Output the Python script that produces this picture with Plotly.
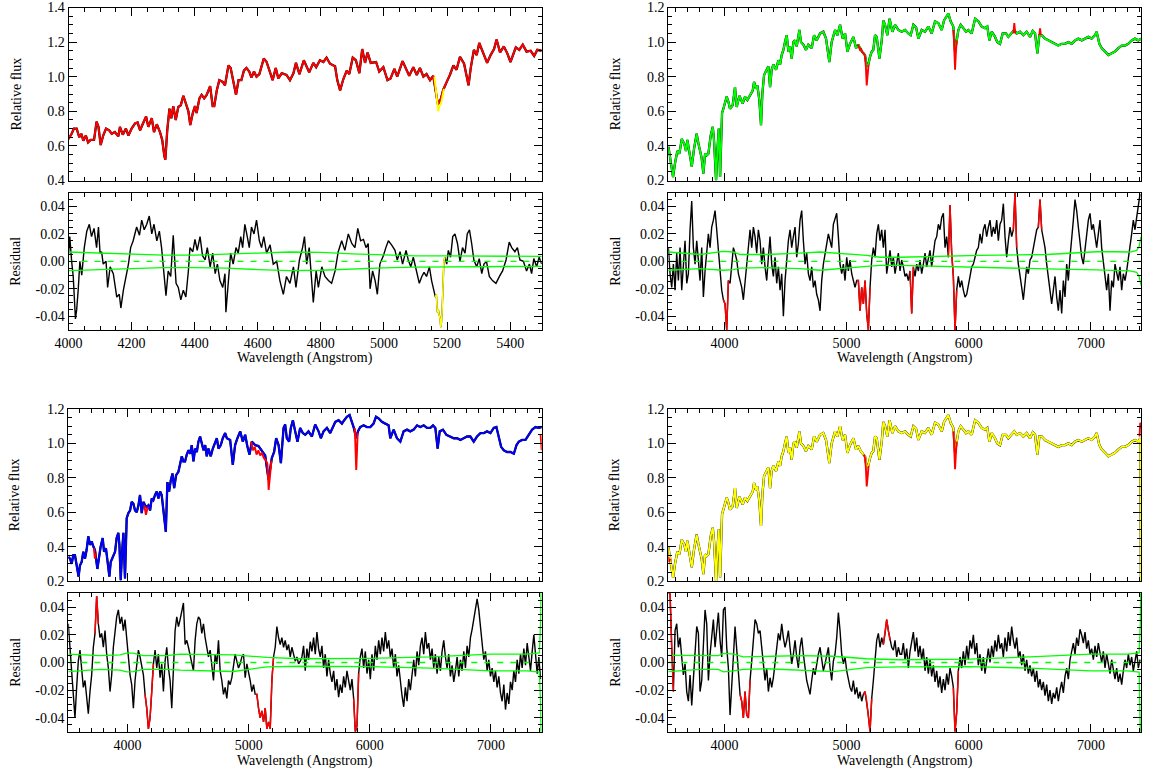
import numpy as np
import plotly.graph_objects as go

# ------------------------------------------------------------------ data
# Panel A (top-left): flux (model red, data black), masked data yellow
A_wave = [4000,4010,4017,4026,4034,4041,4047,4055,4062,4070,
          4081,4089,4095,4102,4110,4119,4129,4137,4147,4158,
          4163,4172,4182,4190,4200,4211,4219,4227,4235,4246,
          4253,4264,4271,4280,4290,4297,4304,4307,4313,4320,
          4326,4332,4340,4348,4356,4364,4372,4380,4386,4394,
          4401,4406,4415,4422,4430,4438,4449,4457,4462,4470,
          4478,4489,4496,4507,4514,4522,4531,4539,4548,4556,
          4564,4573,4580,4588,4596,4605,4619,4628,4639,4647,
          4657,4665,4676,4691,4702,4713,4721,4732,4746,4763,
          4776,4785,4797,4808,4818,4829,4845,4852,4861,4871,
          4882,4890,4901,4911,4922,4931,4940,4948,4958,4975,
          4985,4998,5011,5021,5033,5042,5059,5072,5080,5093,
          5104,5114,5125,5135,5146,5156,5164,5171,5180,5188,
          5199,5209,5220,5230,5241,5254,5268,5275,5285,5294,
          5302,5315,5327,5338,5349,5357,5368,5380,5391,5401,
          5410,5418,5429,5440,5452,5465,5476,5486,5500]
A_flux = [0.64,0.67,0.70,0.70,0.65,0.67,0.63,0.66,0.62,0.635,
          0.635,0.74,0.71,0.605,0.66,0.70,0.69,0.67,0.68,0.655,
          0.71,0.665,0.70,0.66,0.70,0.73,0.735,0.69,0.725,0.77,
          0.71,0.76,0.68,0.725,0.68,0.635,0.54,0.52,0.69,0.815,
          0.76,0.83,0.75,0.825,0.835,0.89,0.845,0.80,0.72,0.79,
          0.83,0.79,0.875,0.895,0.875,0.895,0.945,0.83,0.83,0.92,
          0.98,0.97,0.95,1.065,1.05,0.97,0.895,0.98,0.98,1.035,
          1.05,1.03,0.995,1.03,1.0,1.015,1.105,1.085,1.02,0.98,
          1.05,0.99,1.02,1.01,0.98,1.02,1.08,1.015,1.095,1.025,
          1.08,1.055,1.095,1.085,1.11,1.075,1.06,0.98,0.92,0.985,
          1.035,1.015,1.11,1.095,1.02,1.16,1.08,1.14,1.08,1.085,
          1.03,1.055,0.98,0.99,1.045,1.0,1.09,1.04,1.005,1.055,
          1.01,1.05,1.0,1.015,0.98,1.005,0.915,0.84,0.87,0.925,
          0.97,1.01,1.065,1.04,1.115,1.075,0.95,1.05,1.155,1.125,
          1.195,1.135,1.08,1.125,1.16,1.215,1.14,1.175,1.135,1.085,
          1.135,1.17,1.155,1.185,1.145,1.15,1.12,1.155,1.15]
A_mask_wave = [[5160,5164,5168,5172,5176,5181,5186,5190]]
A_mask_flux = [[1.0,0.92,0.85,0.80,0.83,0.845,0.89,0.93]]

A_res_wave = [4000,4004,4010,4015,4022,4026,4031,4036,4042,4050,
              4058,4066,4073,4081,4089,4095,4100,4105,4110,4119,
              4124,4132,4142,4153,4161,4166,4174,4182,4190,4197,
              4205,4216,4225,4232,4240,4248,4256,4264,4271,4280,
              4288,4295,4300,4309,4316,4324,4332,4341,4348,4356,
              4364,4372,4380,4385,4394,4401,4408,4417,4425,4433,
              4440,4449,4457,4465,4472,4480,4489,4496,4499,4507,
              4514,4522,4531,4538,4546,4552,4559,4565,4573,4580,
              4588,4596,4605,4612,4619,4628,4639,4649,4660,4670,
              4681,4691,4702,4713,4721,4732,4742,4748,4755,4763,
              4771,4776,4785,4792,4803,4813,4824,4834,4845,4855,
              4866,4876,4887,4898,4908,4917,4926,4935,4943,4950,
              4956,4964,4972,4979,4987,4998,5006,5014,5024,5035,
              5042,5051,5059,5070,5077,5085,5093,5104,5112,5120,
              5127,5135,5144,5151,5158,5163,5166,5169,5172,5175,
              5178,5180,5182,5184,5187,5190,5193,5199,5204,5211,
              5218,5225,5233,5241,5249,5257,5264,5271,5278,5285,
              5294,5302,5310,5317,5325,5334,5344,5355,5366,5376,
              5387,5397,5405,5415,5423,5431,5442,5452,5461,5468,
              5475,5484,5492,5500]
A_res = [0.005,0.018,0.0,-0.011,-0.042,-0.035,-0.02,0.0,-0.01,0.01,
         0.022,0.027,0.018,0.024,0.01,0.025,0.006,0.007,-0.002,0.0,
         -0.019,-0.004,-0.009,-0.026,-0.024,-0.034,-0.021,-0.011,-0.002,0.01,
         0.015,0.025,0.019,0.03,0.023,0.027,0.033,0.02,0.027,0.015,
         0.022,0.01,-0.002,-0.025,-0.007,-0.011,0.019,-0.016,-0.019,-0.028,
         -0.021,-0.026,-0.007,0.01,0.007,0.016,0.008,0.018,0.004,0.001,
         0.01,-0.004,0.006,-0.009,-0.002,-0.014,-0.019,-0.009,-0.037,-0.014,
         0.006,-0.002,0.01,0.006,0.018,0.01,0.027,0.02,0.01,0.025,
         0.02,0.03,0.015,0.01,0.018,0.006,0.012,-0.002,0.0,-0.014,
         -0.024,-0.011,-0.016,-0.004,-0.019,0.001,0.01,0.018,-0.002,0.01,
         -0.014,-0.03,-0.007,-0.019,-0.004,-0.011,-0.014,-0.016,-0.007,0.007,
         0.015,0.008,0.02,0.013,0.01,0.024,0.015,0.016,0.01,0.013,
         -0.02,-0.007,-0.014,-0.024,-0.002,0.004,0.01,0.015,0.012,0.008,
         0.001,0.007,-0.002,0.008,0.001,-0.004,0.003,-0.007,-0.016,-0.011,
         -0.008,-0.011,-0.004,-0.014,-0.022,-0.026,-0.024,-0.037,-0.035,-0.039,
         -0.042,-0.048,-0.045,-0.038,-0.014,0.0,0.003,-0.002,0.008,0.003,
         0.018,0.02,0.013,0.0,0.01,0.006,0.02,0.023,0.013,0.001,
         -0.004,0.002,-0.009,-0.002,0.0,-0.011,-0.014,-0.016,-0.011,-0.007,
         0.001,0.014,0.01,0.007,0.01,0.001,0.0,-0.007,-0.002,-0.009,
         0.002,-0.004,0.003,-0.002]
A_res_mask = [(5164, 5191)]
A_sig_wave = [4000,4100,4200,4300,4400,4500,4600,4700,4800,4900,5000,5100,5200,5300,5400,5500]
A_sig_up = [0.0068,0.006,0.005,0.0045,0.0045,0.005,0.006,0.0068,0.0065,0.0055,0.0045,0.004,0.004,0.0038,0.0037,0.0036]
A_sig_lo = [-0.0068,-0.006,-0.005,-0.0045,-0.0046,-0.005,-0.006,-0.0068,-0.0065,-0.0055,-0.0048,-0.0042,-0.004,-0.0038,-0.0037,-0.0036]

# Panel B (top-right): model green, masked red
B_wave = [3542,3555,3569,3580,3596,3615,3632,3651,3670,3686,
          3697,3713,3733,3752,3773,3787,3801,3814,3828,3842,
          3855,3869,3888,3905,3915,3932,3943,3954,3965,3981,
          3992,4005,4019,4033,4046,4068,4087,4101,4123,4150,
          4169,4188,4210,4232,4243,4259,4270,4286,4300,4311,
          4325,4341,4360,4374,4387,4401,4423,4442,4456,4469,
          4483,4496,4510,4524,4537,4551,4565,4578,4592,4614,
          4627,4647,4668,4687,4715,4734,4756,4783,4810,4832,
          4859,4878,4906,4925,4947,4968,4988,5007,5028,5056,
          5078,5097,5116,5138,5151,5165,5178,5192,5206,5219,
          5233,5247,5269,5288,5301,5315,5334,5352,5375,5397,
          5424,5451,5479,5506,5525,5547,5569,5588,5615,5642,
          5670,5697,5724,5751,5779,5798,5820,5833,5852,5874,
          5888,5901,5915,5934,5956,5978,5997,6024,6052,6079,
          6106,6133,6152,6169,6188,6215,6234,6256,6278,6305,
          6324,6351,6373,6392,6420,6447,6474,6502,6524,6543,
          6562,6578,6597,6624,6652,6679,6706,6733,6761,6788,
          6815,6843,6870,6897,6925,6952,6979,7006,7034,7047,
          7069,7088,7115,7143,7170,7197,7225,7252,7279,7306,
          7334,7361,7388,7410]
B_flux = [0.395,0.34,0.26,0.22,0.30,0.37,0.355,0.44,0.415,0.37,
          0.435,0.37,0.28,0.385,0.47,0.415,0.375,0.33,0.24,0.355,
          0.345,0.355,0.46,0.51,0.435,0.20,0.375,0.50,0.22,0.59,
          0.615,0.655,0.685,0.655,0.615,0.635,0.74,0.625,0.69,0.645,
          0.685,0.665,0.695,0.72,0.77,0.73,0.75,0.665,0.52,0.705,
          0.81,0.83,0.86,0.74,0.84,0.87,0.84,0.895,0.87,0.925,
          0.955,1.0,1.04,0.945,0.975,0.905,1.0,1.01,0.975,1.07,
          1.0,0.985,0.955,0.985,0.965,1.04,1.01,1.05,1.06,1.02,
          0.885,1.0,1.07,1.04,1.10,1.02,1.05,0.945,0.99,1.03,
          0.965,0.985,0.955,0.935,0.925,0.86,0.87,0.915,0.945,0.955,
          1.04,1.03,0.905,1.01,1.125,1.10,1.04,1.135,1.06,1.10,
          1.07,1.06,1.07,1.05,1.04,1.10,1.085,1.02,1.07,1.06,
          1.09,1.05,1.12,1.11,1.07,1.125,1.155,1.165,1.12,1.09,
          0.945,1.01,1.07,1.10,1.08,1.06,1.07,1.05,1.135,1.12,
          1.09,1.08,1.09,1.01,1.06,1.03,1.0,0.99,1.05,1.05,
          1.03,1.05,1.07,1.05,1.06,1.04,1.06,1.03,1.065,1.05,
          0.935,1.04,1.04,1.02,1.01,1.0,0.99,0.98,0.99,0.99,
          1.0,0.99,1.01,1.02,1.01,1.02,1.03,1.02,1.04,1.06,
          0.99,0.965,0.945,0.925,0.935,0.945,0.965,0.98,0.98,0.99,
          1.01,1.02,1.01,1.02]
B_mask_wave = [[5090,5100,5110,5120,5130,5140,5150,5158,5165,5172,5180],
               [5876,5882,5888,5894,5901],
               [6366,6373,6380],
               [6578,6584,6590]]
B_mask_flux = [[0.985,0.975,0.955,0.96,0.94,0.935,0.92,0.86,0.75,0.80,0.87],
               [1.07,0.97,0.84,0.93,1.01],
               [1.05,1.11,1.05],
               [1.04,1.08,1.04]]
B_res_grid = [(3541.7, 13.64)]
B_res = [[0.010,-0.009,-0.019,-0.002,-0.021,0.006,-0.014,0.010,-0.021,-0.004,
          0.015,-0.016,-0.009,0.023,0.044,0.010,-0.002,0.015,0.001,-0.014,
          0.010,-0.026,-0.007,0.006,0.020,0.010,0.025,0.030,0.037,0.023,
          0.006,-0.009,-0.021,-0.028,-0.031,-0.050,-0.014,-0.016,-0.002,0.010,
          0.006,0.001,-0.009,-0.014,-0.019,-0.028,-0.014,0.001,0.015,0.023,
          0.010,0.025,0.018,0.006,0.023,0.015,-0.002,0.010,-0.004,-0.014,
          0.003,0.018,-0.002,-0.011,0.003,-0.016,-0.004,-0.021,-0.009,-0.040,
          -0.014,0.001,0.015,0.023,0.010,0.018,0.025,0.003,0.013,0.030,
          0.037,0.015,-0.002,0.006,-0.009,-0.014,-0.004,-0.019,-0.014,-0.024,
          -0.028,-0.036,-0.014,-0.002,0.006,0.013,0.020,0.015,0.010,0.027,
          0.032,0.035,0.018,-0.002,-0.009,-0.002,-0.014,0.003,-0.007,0.001,
          -0.009,-0.014,-0.019,-0.014,-0.014,-0.036,-0.019,-0.031,-0.014,-0.038,
          -0.050,-0.019,0.001,0.010,0.003,0.020,0.027,0.015,0.023,0.010,
          0.023,
          -0.009,0.001,0.008,-0.004,0.003,-0.009,-0.002,0.006,-0.007,0.001,
          -0.004,-0.011,-0.009,-0.014,-0.007,-0.038,-0.004,-0.011,-0.002,-0.007,
          0.001,-0.009,-0.002,0.006,-0.004,0.003,0.008,-0.004,0.006,0.015,
          0.018,0.027,0.023,0.032,0.035,0.010,0.018,0.003,0.041,0.006,
          -0.011,-0.050,-0.021,-0.011,-0.019,-0.014,-0.021,-0.026,-0.024,-0.016,
          -0.011,-0.004,-0.002,0.003,0.008,0.010,0.020,0.013,0.023,0.027,
          0.018,0.025,0.030,0.018,0.025,0.020,0.030,0.015,0.027,0.030,
          0.042,0.018,0.003,0.015,0.025,0.018,0.023,0.050,0.010,-0.002,
          -0.009,-0.019,-0.028,-0.014,-0.004,-0.009,0.001,0.003,0.010,0.018,
          0.023,0.025,0.045,0.023,0.015,0.010,-0.002,-0.011,-0.021,-0.031,
          -0.021,-0.011,-0.026,-0.036,-0.021,-0.038,-0.014,-0.026,-0.002,-0.014,
          0.003,0.015,0.030,0.045,0.037,0.025,0.015,0.003,-0.002,0.010,
          0.023,0.030,0.035,0.023,0.027,0.018,0.010,0.020,0.030,0.010,
          -0.002,-0.014,-0.021,-0.009,-0.036,-0.014,-0.019,-0.002,-0.009,-0.014,
          -0.004,-0.021,-0.009,-0.014,-0.007,0.001,0.010,0.020,0.030,0.023,
          0.032,0.040,0.049]]
B_res_mask = [(4000,4025),(5090,5180),(5525,5540),(5840,5855),(5880,5895),(6372,6386),(6577,6590)]
B_sig_wave = [3541,3800,3990,4074,4128,4346,4619,4783,5165,5274,5438,6092,6638,7047,7184,7320,7375,7395,7410]
B_sig_up = [0.0068,0.005,0.0073,0.0068,0.005,0.005,0.006,0.0068,0.0044,0.003,0.003,0.0044,0.005,0.007,0.007,0.0068,0.008,0.011,0.018]
B_sig_lo = [-0.0065,-0.0053,-0.0065,-0.006,-0.005,-0.0046,-0.0053,-0.0065,-0.0036,-0.003,-0.003,-0.0046,-0.0055,-0.0062,-0.0065,-0.007,-0.008,-0.011,-0.0175]

# Panel C (bottom-left): model blue, masked red
C_wave = [3511,3525,3539,3552,3566,3580,3596,3607,3621,3635,
          3649,3662,3676,3690,3704,3718,3731,3751,3767,3778,
          3795,3806,3822,3833,3850,3861,3877,3897,3910,3924,
          3933,3944,3955,3966,3979,3993,4007,4021,4034,4048,
          4062,4076,4090,4103,4117,4131,4145,4158,4172,4186,
          4200,4213,4227,4241,4255,4269,4282,4296,4316,4329,
          4343,4357,4371,4385,4401,4420,4434,4448,4461,4475,
          4489,4503,4517,4530,4544,4558,4572,4585,4599,4613,
          4627,4641,4654,4668,4687,4704,4723,4737,4751,4770,
          4786,4806,4820,4847,4869,4888,4907,4930,4952,4971,
          4990,5007,5026,5054,5081,5109,5136,5164,5191,5210,
          5227,5247,5266,5288,5301,5315,5334,5348,5365,5384,
          5403,5425,5447,5467,5494,5522,5549,5577,5596,5618,
          5646,5673,5695,5715,5742,5770,5789,5811,5833,5847,
          5866,5888,5902,5921,5949,5976,6004,6031,6051,6073,
          6100,6128,6155,6169,6197,6224,6252,6279,6307,6334,
          6362,6390,6417,6445,6472,6500,6522,6541,6560,6577,
          6604,6632,6665,6693,6720,6748,6775,6803,6830,6858,
          6885,6913,6941,6968,6996,7023,7045,7065,7084,7106,
          7133,7161,7189,7211,7230,7257,7285,7312,7340,7368,
          7395,7419]
C_flux = [0.34,0.33,0.30,0.35,0.35,0.29,0.225,0.29,0.31,0.37,
          0.33,0.38,0.46,0.41,0.43,0.40,0.38,0.27,0.35,0.40,
          0.45,0.37,0.39,0.31,0.225,0.31,0.34,0.37,0.45,0.48,
          0.41,0.205,0.37,0.48,0.215,0.565,0.595,0.61,0.66,0.65,
          0.61,0.60,0.64,0.70,0.595,0.66,0.64,0.63,0.64,0.61,
          0.68,0.67,0.70,0.72,0.68,0.72,0.70,0.60,0.485,0.775,
          0.72,0.785,0.825,0.74,0.815,0.835,0.875,0.925,0.895,0.895,
          0.935,0.96,0.94,0.99,0.895,0.97,0.95,1.01,1.04,0.99,
          0.96,0.99,0.925,0.97,0.925,0.97,1.0,1.03,0.97,0.99,
          1.03,1.06,1.03,1.02,0.875,0.99,1.03,1.07,1.01,1.05,
          0.98,0.935,1.01,0.99,0.985,0.96,0.93,0.79,0.915,0.95,
          1.03,0.99,0.885,1.09,1.11,1.03,1.01,1.09,1.135,1.07,
          1.01,1.09,1.06,1.05,1.07,1.04,1.11,1.07,1.03,1.07,
          1.09,1.06,1.09,1.125,1.135,1.115,1.135,1.155,1.165,1.135,
          1.095,1.03,1.07,1.095,1.105,1.095,1.095,1.115,1.155,1.145,
          1.125,1.115,1.105,1.03,1.08,1.03,1.01,1.07,1.08,1.07,
          1.08,1.105,1.095,1.105,1.09,1.09,1.105,1.09,0.97,1.07,
          1.08,1.05,1.04,1.03,1.03,1.02,1.03,1.04,1.04,1.01,
          1.04,1.06,1.06,1.07,1.06,1.09,1.095,1.03,0.98,0.96,
          0.95,0.95,0.94,0.99,1.01,1.02,1.02,1.05,1.08,1.095,
          1.09,1.095]
C_mask_wave = [[3722,3731,3740],
               [4138,4145,4152,4160,4168],
               [5020,5035,5050,5065,5080,5095,5110,5125,5140,5155,5165,5175,5188],
               [5876,5882,5888,5894,5900],
               [7410,7415,7419]]
C_mask_flux = [[0.39,0.33,0.36],
               [0.64,0.60,0.585,0.61,0.63],
               [1.01,0.96,0.98,0.935,0.96,0.93,0.945,0.915,0.905,0.88,0.73,0.80,0.90],
               [1.09,0.98,0.845,0.95,1.06],
               [1.05,1.0,0.96]]
C_res_grid = [(3511.0, 13.775), (5439.5, 13.775)]
C_res = [[0.028,0.011,-0.009,-0.026,-0.040,-0.018,0.001,0.009,-0.004,-0.018,
          -0.013,-0.028,-0.037,-0.021,-0.009,0.011,0.021,0.048,0.028,0.018,
          0.021,0.011,0.023,0.006,-0.004,-0.021,-0.009,0.011,0.021,0.033,
          0.038,0.028,0.033,0.023,0.031,0.016,0.004,-0.009,-0.016,-0.033,
          -0.013,-0.001,0.009,0.004,-0.004,-0.009,-0.023,-0.033,-0.048,-0.040,
          -0.021,-0.001,0.009,-0.004,0.006,-0.011,-0.001,-0.021,0.001,0.011,
          -0.004,-0.013,-0.033,-0.001,0.023,0.033,0.026,0.031,0.036,0.043,
          0.013,0.016,0.011,0.006,-0.001,-0.006,0.016,0.028,0.033,0.031,
          0.021,0.028,0.018,0.011,0.004,0.009,-0.004,-0.013,0.006,-0.001,
          0.016,-0.006,-0.013,-0.023,-0.018,-0.026,-0.013,-0.016,-0.011,-0.001,
          0.006,0.001,-0.004,-0.001,0.004,0.006,-0.011,-0.001,-0.006,-0.013,
          -0.021,-0.016,-0.023,-0.023,-0.033,-0.040,-0.035,-0.043,-0.033,-0.048,
          -0.043,-0.048,-0.013,0.004,0.011,0.026,0.018,0.013,0.018,0.011,
          0.016,0.009,0.013,0.004,0.011,0.006,0.001,0.004,-0.001,0.001],
         [0.004,0.012,-0.006,0.010,0.002,0.015,
          0.008,0.018,0.006,0.022,0.010,0.004,
          0.012,-0.004,0.006,-0.010,0.002,-0.008,
          -0.014,-0.006,-0.020,-0.012,-0.025,-0.016,
          -0.022,-0.010,-0.018,-0.006,-0.014,-0.020,
          -0.012,-0.026,-0.050,-0.046,-0.008,0.004,
          0.010,-0.004,0.008,-0.008,0.002,-0.012,
          0.006,-0.006,0.012,0.002,0.016,0.006,
          0.018,0.008,0.022,0.010,0.016,0.004,
          0.010,-0.004,0.006,-0.010,-0.002,-0.016,
          -0.024,-0.032,-0.018,-0.028,-0.012,-0.020,
          -0.008,0.002,-0.010,0.008,-0.002,0.012,
          0.018,0.006,0.022,0.010,0.014,0.002,
          0.010,-0.004,0.006,-0.008,0.004,-0.006,
          0.008,0.016,0.004,-0.004,0.006,-0.010,
          -0.002,-0.014,-0.006,0.004,-0.010,0.002,
          -0.006,0.008,-0.004,0.012,0.004,0.018,
          0.024,0.032,0.040,0.046,0.038,0.026,
          0.012,0.002,0.008,-0.006,0.002,-0.010,
          -0.004,-0.014,-0.006,-0.018,-0.010,-0.022,
          -0.028,-0.016,-0.034,-0.022,-0.030,-0.014,
          -0.020,-0.006,-0.014,0.002,-0.008,0.006,
          -0.004,0.010,-0.002,0.014,0.004,-0.006,
          0.008,0.020,0.006,-0.008,0.004,-0.012]]
C_res_mask = [(3740,3750),(4150,4201),(5060,5192),(5878,5897)]
C_sig_wave = [3511,3773,3938,3993,4048,4130,4323,4434,4874,5150,5426,6000,6500,7000,7300,7400,7410,7419]
C_sig_up = [0.006,0.005,0.0055,0.0068,0.0068,0.005,0.005,0.006,0.0055,0.0037,0.0027,0.003,0.004,0.006,0.006,0.007,0.03,0.08]
C_sig_lo = [-0.0066,-0.005,-0.0055,-0.0068,-0.0066,-0.005,-0.005,-0.0055,-0.0065,-0.0032,-0.0027,-0.003,-0.004,-0.006,-0.006,-0.007,-0.03,-0.08]

# Panel D (bottom-right): model yellow, masked red (same spectrum as panel B)
D_wave = B_wave[:-1] + [7404, 7410]
D_flux = B_flux[:-1] + [1.03, 0.10]
D_mask_wave = [[3541,3548,3556],
               [5140,5150,5158,5165,5172,5180],
               [5876,5882,5888,5894,5901],
               [7398,7404,7409]]
D_mask_flux = [[0.34,0.31,0.33],
               [0.935,0.92,0.86,0.75,0.80,0.87],
               [1.07,0.97,0.85,0.93,1.01],
               [1.04,1.12,1.10]]
D_res_grid = [(3541.7, 13.64), (5451.3, 13.64)]
D_res = [[0.050,0.050,0.011,-0.021,0.023,0.028,0.011,0.018,0.004,-0.009,
          -0.001,-0.021,-0.028,-0.009,-0.031,-0.013,0.011,0.026,0.021,-0.021,
          -0.013,0.011,0.038,0.028,-0.013,0.006,0.018,0.031,0.011,0.023,
          0.036,0.016,0.004,0.038,0.040,0.011,-0.004,-0.038,-0.011,0.004,
          0.026,0.011,-0.004,-0.023,-0.028,-0.040,-0.021,-0.038,-0.040,-0.013,
          0.001,0.016,0.031,0.028,0.021,0.023,0.011,0.001,-0.013,-0.004,
          -0.021,-0.011,-0.018,-0.011,-0.001,0.011,0.021,0.016,0.028,0.018,
          0.011,0.016,0.023,0.011,-0.001,0.006,0.016,0.004,-0.004,0.011,
          0.018,0.006,-0.004,-0.013,-0.018,-0.023,-0.013,-0.004,-0.009,-0.001,
          0.006,0.011,0.001,-0.006,-0.001,0.004,0.011,-0.004,-0.013,0.001,
          0.006,0.018,0.036,0.023,0.006,-0.001,0.004,-0.006,-0.013,-0.018,
          -0.021,-0.013,-0.023,-0.018,-0.026,-0.021,-0.028,-0.023,-0.021,-0.028,
          -0.038,-0.050,-0.026,-0.013,0.001,0.016,0.021,0.011,0.018,0.013,
          0.021,0.031,0.023,0.016,0.011,0.009,0.016,0.004,0.011,0.006],
         [0.006,0.014,0.002,0.010,-0.004,0.008,
          0.016,0.022,0.008,0.018,0.004,0.012,
          0.002,0.010,-0.006,0.004,-0.008,0.002,
          -0.010,-0.002,-0.014,-0.006,-0.018,-0.010,
          -0.022,-0.012,-0.020,-0.008,-0.016,-0.004,
          -0.010,-0.018,-0.050,-0.036,-0.006,0.004,
          -0.004,0.008,-0.002,0.012,0.002,0.016,
          0.010,0.020,0.006,0.014,-0.002,0.006,
          -0.006,0.004,-0.008,0.002,0.010,0.000,
          0.012,0.004,0.016,0.008,0.020,0.010,
          0.014,0.004,0.018,0.008,0.022,0.012,
          0.026,0.016,0.010,0.018,0.004,0.008,
          -0.002,0.006,-0.006,0.002,-0.008,-0.002,
          -0.010,-0.004,-0.014,-0.006,-0.018,-0.012,
          -0.020,-0.014,-0.024,-0.016,-0.028,-0.020,
          -0.030,-0.022,-0.026,-0.018,-0.028,-0.020,
          -0.014,-0.022,-0.010,-0.004,-0.012,0.002,
          0.008,0.014,0.006,0.018,0.012,0.024,
          0.020,0.014,0.022,0.010,0.016,0.006,
          0.010,0.002,0.012,0.004,0.014,0.006,
          0.000,0.008,-0.004,0.006,-0.002,-0.008,
          0.002,-0.006,-0.012,-0.004,-0.014,-0.008,
          -0.016,-0.006,0.002,-0.004,0.006,-0.002,
          0.004,-0.006,0.002,0.008,-0.004,0.002]]
D_res_mask = [(3540,3570),(4140,4197),(5150,5195),(5312,5345),(5882,5903)]
D_sig_wave = [3541,3800,3950,3992,4074,4155,4346,4619,4892,5165,5438,6000,6500,7000,7300,7395,7405,7410]
D_sig_up = [0.0052,0.0048,0.005,0.0066,0.006,0.004,0.0045,0.005,0.0045,0.0027,0.002,0.0025,0.004,0.006,0.006,0.007,0.03,0.08]
D_sig_lo = [-0.0066,-0.005,-0.005,-0.0068,-0.006,-0.005,-0.0045,-0.0055,-0.0066,-0.0037,-0.0032,-0.003,-0.004,-0.006,-0.006,-0.007,-0.03,-0.08]

# ------------------------------------------------------------------ layout helpers
W, H = 1155, 769
FONT = "Liberation Serif"
BLACK = "#000000"


def px_x(p):
    return p / W


def px_y(p):
    return 1 - p / H


panels = [
    dict(w=A_wave, f=A_flux, mw=A_mask_wave, mf=A_mask_flux,
         rw=[A_res_wave], r=[A_res], rmask=A_res_mask, sw=A_sig_wave, su=A_sig_up, sl=A_sig_lo,
         xd=(68.5, 541.7), fy=(7.5, 180.5), ry=(192.7, 330.0), xr=(4000, 5500), fr=(0.4, 1.4),
         col="#ff0000", mcol="#ffff00", dt=200, mdt=50, xlab_y=358),
    dict(w=B_wave, f=B_flux, mw=B_mask_wave, mf=B_mask_flux,
         grid=B_res_grid, r=B_res, rmask=B_res_mask, sw=B_sig_wave, su=B_sig_up, sl=B_sig_lo,
         xd=(668.3, 1141.0), fy=(7.5, 180.5), ry=(192.7, 330.0), xr=(3541, 7410), fr=(0.2, 1.2),
         col="#00ff00", mcol="#ff0000", dt=1000, mdt=100, xlab_y=358),
    dict(w=C_wave, f=C_flux, mw=C_mask_wave, mf=C_mask_flux,
         grid=C_res_grid, r=C_res, rmask=C_res_mask, sw=C_sig_wave, su=C_sig_up, sl=C_sig_lo,
         xd=(68.3, 541.7), fy=(409.0, 581.0), ry=(593.3, 731.7), xr=(3511, 7419), fr=(0.2, 1.2),
         col="#0000ff", mcol="#ff0000", dt=1000, mdt=100, xlab_y=761),
    dict(w=D_wave, f=D_flux, mw=D_mask_wave, mf=D_mask_flux,
         grid=D_res_grid, r=D_res, rmask=D_res_mask, sw=D_sig_wave, su=D_sig_up, sl=D_sig_lo,
         xd=(668.3, 1141.0), fy=(409.0, 581.0), ry=(593.3, 731.7), xr=(3541, 7410), fr=(0.2, 1.2),
         col="#ffff00", mcol="#ff0000", dt=1000, mdt=100, xlab_y=761),
]

fig = go.Figure()
layout = dict(width=W, height=H, margin=dict(l=0, r=0, t=0, b=0, autoexpand=False),
              paper_bgcolor="white", plot_bgcolor="white", showlegend=False,
              font=dict(family=FONT, size=14, color=BLACK))
annotations = []


def axis_style():
    return dict(showline=True, linecolor=BLACK, linewidth=1, mirror="allticks",
                ticks="inside", ticklen=8, tickwidth=1, tickcolor=BLACK,
                showgrid=False, zeroline=False, automargin=False,
                tickfont=dict(family=FONT, size=14, color=BLACK))


def mask_values(w, v, ranges):
    w = np.asarray(w, float)
    v = np.asarray(v, float)
    m = np.zeros(len(w), bool)
    for a, b in ranges:
        m |= (w >= a) & (w <= b)
    mm = m.copy()
    mm[1:] |= m[:-1]
    mm[:-1] |= m[1:]
    return np.where(mm, v, np.nan)


for i, p in enumerate(panels):
    fa = 2 * i + 1
    ra = 2 * i + 2
    xd = [px_x(p["xd"][0]), px_x(p["xd"][1])]
    fyd = [px_y(p["fy"][1]), px_y(p["fy"][0])]
    ryd = [px_y(p["ry"][1]), px_y(p["ry"][0])]
    fx_name, fy_name = f"x{fa}", f"y{fa}"
    rx_name, ry_name = f"x{ra}", f"y{ra}"

    # ---- flux panel: data (black) under model (colour), masked data on top
    fig.add_trace(go.Scatter(x=p["w"], y=p["f"], mode="lines", xaxis=fx_name, yaxis=fy_name,
                             line=dict(color=BLACK, width=2.3), hoverinfo="skip"))
    fig.add_trace(go.Scatter(x=p["w"], y=p["f"], mode="lines", xaxis=fx_name, yaxis=fy_name,
                             line=dict(color=p["col"], width=1.9), hoverinfo="skip"))
    for mw, mf in zip(p["mw"], p["mf"]):
        fig.add_trace(go.Scatter(x=mw, y=mf, mode="lines", xaxis=fx_name, yaxis=fy_name,
                                 line=dict(color=p["mcol"], width=1.9), hoverinfo="skip"))

    # ---- residual panel
    if "grid" in p:
        rw = [s + st * np.arange(len(v)) for (s, st), v in zip(p["grid"], p["r"])]
        rw = [np.concatenate(rw)]
        rv = [np.concatenate([np.asarray(v, float) for v in p["r"]])]
    else:
        rw, rv = p["rw"], p["r"]
    for ww, vv in zip(rw, rv):
        fig.add_trace(go.Scatter(x=ww, y=vv, mode="lines", xaxis=rx_name, yaxis=ry_name,
                                 line=dict(color=BLACK, width=1.4), hoverinfo="skip"))
        mv = mask_values(ww, vv, p["rmask"])
        fig.add_trace(go.Scatter(x=ww, y=mv, mode="lines", xaxis=rx_name, yaxis=ry_name,
                                 line=dict(color=p["mcol"], width=1.5), hoverinfo="skip",
                                 connectgaps=False))
    fig.add_trace(go.Scatter(x=p["sw"], y=p["su"], mode="lines", xaxis=rx_name, yaxis=ry_name,
                             line=dict(color="#00ff00", width=1.3), hoverinfo="skip"))
    fig.add_trace(go.Scatter(x=p["sw"], y=p["sl"], mode="lines", xaxis=rx_name, yaxis=ry_name,
                             line=dict(color="#00ff00", width=1.3), hoverinfo="skip"))
    fig.add_trace(go.Scatter(x=list(p["xr"]), y=[0, 0], mode="lines", xaxis=rx_name, yaxis=ry_name,
                             line=dict(color="#00ff00", width=1.3, dash="6px,7px"), hoverinfo="skip"))

    # ---- axes
    x_ticks = list(range(int(np.ceil(p["xr"][0] / p["dt"]) * p["dt"]), p["xr"][1] + 1, p["dt"]))
    for ax_idx, ydom, yr, is_flux in [(fa, fyd, p["fr"], True), (ra, ryd, (-0.05, 0.05), False)]:
        xa = axis_style()
        xa.update(domain=xd, range=list(p["xr"]), anchor=f"y{ax_idx}",
                  tickvals=x_ticks, ticktext=[str(t) for t in x_ticks],
                  showticklabels=not is_flux,
                  minor=dict(ticks="inside", ticklen=4, tickcolor=BLACK, tickwidth=1,
                             dtick=p["mdt"], tick0=0, showgrid=False))
        ya = axis_style()
        if is_flux:
            yv = [round(yr[0] + 0.2 * k, 1) for k in range(6)]
            yt = [f"{v:.1f}" for v in yv]
            ymdt = 0.05
        else:
            yv = [-0.04, -0.02, 0.0, 0.02, 0.04]
            yt = ["-0.04", "-0.02", "0.00", "0.02", "0.04"]
            ymdt = 0.005
        ya.update(domain=ydom, range=list(yr), anchor=f"x{ax_idx}", tickvals=yv, ticktext=yt,
                  minor=dict(ticks="inside", ticklen=4, tickcolor=BLACK, tickwidth=1,
                             dtick=ymdt, tick0=0, showgrid=False))
        key = "" if ax_idx == 1 else str(ax_idx)
        layout[f"xaxis{key}"] = xa
        layout[f"yaxis{key}"] = ya

    # ---- titles (explicit centre anchors)
    ytitle_x = p["xd"][0] - 53
    common = dict(xref="paper", yref="paper", showarrow=False, xanchor="center", yanchor="middle",
                  font=dict(family=FONT, size=14, color=BLACK))
    annotations.append(dict(text="Relative flux", x=px_x(ytitle_x),
                            y=px_y((p["fy"][0] + p["fy"][1]) / 2), textangle=-90, **common))
    annotations.append(dict(text="Residual", x=px_x(ytitle_x),
                            y=px_y((p["ry"][0] + p["ry"][1]) / 2), textangle=-90, **common))
    annotations.append(dict(text="Wavelength (Angstrom)", x=px_x((p["xd"][0] + p["xd"][1]) / 2),
                            y=px_y(p["xlab_y"]), **common))

layout["annotations"] = annotations
fig.update_layout(**layout)
fig.write_html("out.html")
